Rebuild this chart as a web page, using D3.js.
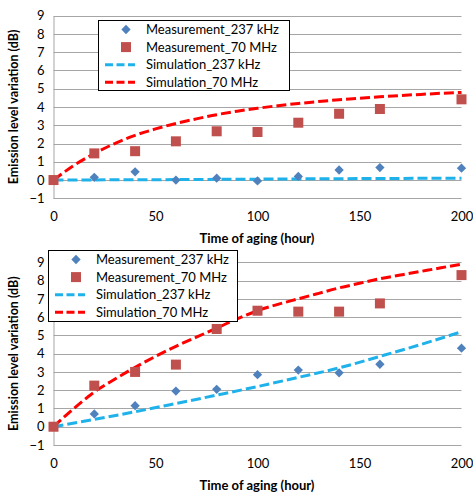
<!DOCTYPE html>
<html>
<head>
<meta charset="utf-8">
<script src="https://cdn.jsdelivr.net/npm/d3@7"></script>
<style>
  body { margin: 0; background: #fff; }
  text { font-family: Lato, "Open Sans", sans-serif; fill: #000; }
</style>
</head>
<body>
<svg width="473" height="495"></svg>
<script>
// measured points (hours)
const hours = [0, 20, 40, 60, 80, 100, 120, 140, 160, 200];
const meas237Top = [0, 0.15, 0.45, 0.0, 0.1, -0.05, 0.2, 0.55, 0.68, 0.65];
const meas70Top = [0, 1.46, 1.58, 2.12, 2.67, 2.63, 3.14, 3.63, 3.89, 4.42];
const meas237Bottom = [0, 0.7, 1.15, 1.95, 2.05, 2.85, 3.1, 2.95, 3.42, 4.3];
const meas70Bottom = [0, 2.25, 3.0, 3.4, 5.35, 6.35, 6.3, 6.3, 6.75, 8.3];

// simulated curves
const simHours = [0, 10, 20, 30, 40, 50, 60, 70, 80, 90, 100, 110, 120, 130, 140, 150, 160, 170, 180, 190, 200];
const sim70Top = [0, 0.8, 1.45, 2.0, 2.45, 2.8, 3.1, 3.35, 3.58, 3.77, 3.93, 4.07, 4.19, 4.3, 4.4, 4.48, 4.56, 4.63, 4.69, 4.75, 4.8];
const sim70Bottom = [0, 1.0, 1.9, 2.6, 3.25, 3.85, 4.4, 4.9, 5.4, 5.9, 6.35, 6.7, 7.0, 7.3, 7.6, 7.85, 8.1, 8.3, 8.5, 8.7, 8.9];
const simHoursCoarse = [0, 50, 100, 150, 200];
const sim237Top = [0, 0.02, 0.05, 0.08, 0.1];
const simHoursMid = [0, 20, 40, 60, 80, 100, 120, 140, 160, 180, 200];
const sim237Bottom = [0, 0.4, 0.82, 1.27, 1.73, 2.2, 2.7, 3.22, 3.85, 4.5, 5.2];

const xTicks = [0, 50, 100, 150, 200];
const yTicks = [-1, 0, 1, 2, 3, 4, 5, 6, 7, 8, 9];
const legendLabels = ['Measurement_237 kHz', 'Measurement_70 MHz', 'Simulation_237 kHz', 'Simulation_70 MHz'];

const colors = { m237: '#4F81BD', m70: '#C0504D', s237: '#1FB2EA', s70: '#FF0000' };

const svg = d3.select('svg');

const zip = (xs, ys) => xs.map((x, i) => ({ x: x, y: ys[i] }));

function drawChart(top, bottom, legendBox, m237, m70, s237, s70) {
  const xScale = d3.scaleLinear().domain([0, 200]).range([53.5, 461.5]);
  const yScale = d3.scaleLinear().domain([-1, 9]).range([bottom, top]);
  const g = svg.append('g');

  // gridlines
  g.selectAll('.grid').data(yTicks)
    .enter().append('line')
    .attr('x1', xScale(0)).attr('x2', xScale(200))
    .attr('y1', d => Math.round(yScale(d)) + 0.5)
    .attr('y2', d => Math.round(yScale(d)) + 0.5)
    .attr('stroke', '#A6A6A6').attr('stroke-width', 1);

  const yAxis = d3.axisLeft(yScale).tickValues(yTicks).tickSize(0).tickPadding(9);
  const yAxisG = g.append('g').attr('transform', `translate(${xScale(0)},0)`).call(yAxis);
  yAxisG.select('.domain').attr('stroke', '#A6A6A6');
  yAxisG.selectAll('text').attr('font-size', 13);

  const xAxis = d3.axisBottom(xScale).tickValues(xTicks).tickSize(0).tickPadding(13);
  const xAxisG = g.append('g').attr('transform', `translate(0,${Math.round(bottom) + 0.5})`).call(xAxis);
  xAxisG.select('.domain').remove();
  xAxisG.selectAll('text').attr('font-size', 13);

  // axis titles
  g.append('text')
    .attr('x', 257).attr('y', bottom + 45)
    .attr('text-anchor', 'middle')
    .attr('font-size', 13).attr('font-weight', 'bold')
    .text('Time of aging (hour)');
  g.append('text')
    .attr('transform', `translate(18,${(top + bottom) / 2}) rotate(-90)`)
    .attr('text-anchor', 'middle')
    .attr('font-size', 12.5).attr('font-weight', 'bold')
    .text('Emission level variation (dB)');

  const line = d3.line().x(d => xScale(d.x)).y(d => yScale(d.y)).curve(d3.curveMonotoneX);

  g.append('path').datum(s237)
    .attr('d', line).attr('fill', 'none')
    .attr('stroke', colors.s237).attr('stroke-width', 3).attr('stroke-dasharray', '10,4');
  g.append('path').datum(s70)
    .attr('d', line).attr('fill', 'none')
    .attr('stroke', colors.s70).attr('stroke-width', 3).attr('stroke-dasharray', '10,4');

  const diamond = d3.symbol().type(d3.symbolDiamond2).size(55);
  g.selectAll('.m237').data(m237)
    .enter().append('path')
    .attr('d', diamond)
    .attr('transform', d => `translate(${xScale(d.x)},${yScale(d.y)})`)
    .attr('fill', colors.m237);
  g.selectAll('.m70').data(m70)
    .enter().append('rect')
    .attr('x', d => xScale(d.x) - 5).attr('y', d => yScale(d.y) - 5)
    .attr('width', 10).attr('height', 10)
    .attr('fill', colors.m70);

  // legend
  const lg = g.append('g');
  lg.append('rect')
    .attr('x', legendBox.x + 0.5).attr('y', legendBox.y + 0.5)
    .attr('width', legendBox.w).attr('height', legendBox.h)
    .attr('fill', '#fff').attr('stroke', '#000');
  const rowH = 17.6;
  legendLabels.forEach((label, i) => {
    const cy = legendBox.y + 9.5 + i * rowH;
    const sx = legendBox.x + 28;
    if (i === 0) {
      lg.append('path').attr('d', diamond)
        .attr('transform', `translate(${sx},${cy})`).attr('fill', colors.m237);
    } else if (i === 1) {
      lg.append('rect').attr('x', sx - 5).attr('y', cy - 5)
        .attr('width', 10).attr('height', 10).attr('fill', colors.m70);
    } else {
      lg.append('line').attr('x1', sx - 21).attr('x2', sx + 9)
        .attr('y1', cy).attr('y2', cy)
        .attr('stroke', i === 2 ? colors.s237 : colors.s70)
        .attr('stroke-width', 3).attr('stroke-dasharray', '8,3.5');
    }
    lg.append('text')
      .attr('x', legendBox.x + 48).attr('y', cy)
      .attr('dy', '0.35em')
      .attr('font-size', 13)
      .text(label);
  });
}

drawChart(15.7, 198.3, { x: 98, y: 20, w: 191, h: 70 },
  zip(hours, meas237Top), zip(hours, meas70Top),
  zip(simHoursCoarse, sim237Top), zip(simHours, sim70Top));

drawChart(262.3, 445, { x: 48, y: 250, w: 189, h: 71 },
  zip(hours, meas237Bottom), zip(hours, meas70Bottom),
  zip(simHoursMid, sim237Bottom), zip(simHours, sim70Bottom));
</script>
</body>
</html>
